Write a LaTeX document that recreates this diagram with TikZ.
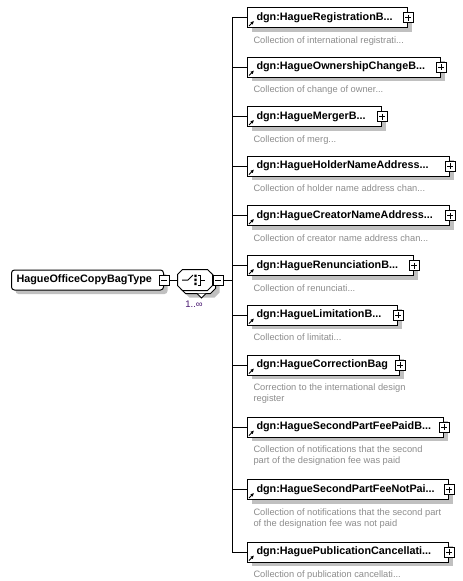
\documentclass[tikz,border=0pt]{standalone}
\usepackage{fontspec}
\setmainfont{Liberation Sans}
\usetikzlibrary{arrows.meta,positioning,shadows}

\definecolor{descgray}{RGB}{140,140,140}
\definecolor{shadowgray}{RGB}{192,192,192}
\definecolor{occurcolor}{RGB}{70,20,110}

\begin{document}
\begin{tikzpicture}[
  x=1pt, y=-1pt,
  font=\fontsize{10.8}{12}\selectfont\bfseries,
  line width=1pt,
  boxshadow/.style={drop shadow={shadow xshift=4pt, shadow yshift=-4pt, fill=shadowgray, opacity=1}},
  elem/.style={draw, fill=white, anchor=west, align=left, inner xsep=9pt, inner ysep=0pt, minimum height=20pt, text width=#1, boxshadow},
  rootbox/.style={draw, fill=white, rounded corners=3pt, anchor=west, align=left, inner xsep=5pt, inner ysep=0pt, minimum height=20pt, text width=142pt, boxshadow},
  compositor/.style={minimum width=34pt, minimum height=20pt, inner sep=0pt},
  octagon/.style={draw, fill=white},
  plusbox/.style={draw, fill=white, minimum size=10pt, inner sep=0pt,
    path picture={\draw[line width=1pt] ([xshift=2pt]path picture bounding box.west) -- ([xshift=-2pt]path picture bounding box.east)
      ([yshift=-2pt]path picture bounding box.north) -- ([yshift=2pt]path picture bounding box.south);}},
  minusbox/.style={draw, fill=white, minimum size=10pt, inner sep=0pt,
    path picture={\draw[line width=1pt] ([xshift=2pt]path picture bounding box.west) -- ([xshift=-2pt]path picture bounding box.east);}},
  desc/.style={anchor=north west, inner sep=0pt, align=left, text=descgray, font=\fontsize{9.3}{11}\selectfont},
  occur/.style={inner sep=0pt, text=occurcolor, font=\fontsize{9.5}{10}\selectfont},
  refarrow/.style={-{Latex[length=3.5pt,width=3.5pt]}, line width=1pt}
]
\useasboundingbox (0,0) rectangle (463,581);

% Root type and choice compositor
\node[rootbox] (root) at (11,280) {HagueOfficeCopyBagType};
\node[minusbox] (root-minus) at (root.east) {};

\node[compositor] (cmp-back) at (198,283) {};
\node[compositor] (cmp) at (195,280) {};
\draw[octagon, boxshadow] ([xshift=5pt]cmp-back.north west) -- ([xshift=-5pt]cmp-back.north east) -- ([yshift=-5pt]cmp-back.north east)
  -- ([yshift=5pt]cmp-back.south east) -- ([xshift=-5pt]cmp-back.south east) -- ([xshift=5pt]cmp-back.south west)
  -- ([yshift=5pt]cmp-back.south west) -- ([yshift=-5pt]cmp-back.north west) -- cycle;
\draw[fill=white] ([xshift=-1pt]cmp-back.south) -- ++(4.5pt,-4.5pt) -- ++(4.5pt,4.5pt);
\draw[octagon] ([xshift=5pt]cmp.north west) -- ([xshift=-5pt]cmp.north east) -- ([yshift=-5pt]cmp.north east)
  -- ([yshift=5pt]cmp.south east) -- ([xshift=-5pt]cmp.south east) -- ([xshift=5pt]cmp.south west)
  -- ([yshift=5pt]cmp.south west) -- ([yshift=-5pt]cmp.north west) -- cycle;
\node[minusbox, right=0pt of cmp] (cmp-minus) {};
\node[occur] (cmp-occ) at (194,304) {1..∞};

% choice icon
\draw ([xshift=-13pt]cmp.center) -- ++(6pt,0pt) -- ++(5pt,5pt);
\fill ([shift={(-0.7pt,3pt)}]cmp.center) rectangle +(2.4pt,2.4pt)
      ([shift={(-0.7pt,-1pt)}]cmp.center) rectangle +(2.4pt,2.4pt)
      ([shift={(-0.7pt,-5pt)}]cmp.center) rectangle +(2.4pt,2.4pt);
\draw ([shift={(3pt,5pt)}]cmp.center) -- ++(2pt,0pt) -- ++(0pt,-10pt) -- ++(-2pt,0pt);
\draw ([xshift=5pt]cmp.center) -- ++(5pt,0pt);

\coordinate (bus) at (232,280);
\draw (root-minus) -- (cmp.west);
\draw (cmp-minus) -- (bus);

% Child elements
\node[elem=142pt] (reg) at (247,17.5) {dgn:HagueRegistrationB...};
\node[elem=175pt] (own) at (247,67) {dgn:HagueOwnershipChangeB...};
\node[elem=116pt] (mrg) at (247,116.5) {dgn:HagueMergerB...};
\node[elem=184pt] (hold) at (247,166) {dgn:HagueHolderNameAddress...};
\node[elem=184pt] (crea) at (247,215.5) {dgn:HagueCreatorNameAddress...};
\node[elem=148pt] (ren) at (247,265.5) {dgn:HagueRenunciationB...};
\node[elem=132pt] (lim) at (247,315) {dgn:HagueLimitationB...};
\node[elem=134pt] (corr) at (247,365) {dgn:HagueCorrectionBag};
\node[elem=178pt] (paid) at (247,427) {dgn:HagueSecondPartFeePaidB...};
\node[elem=183pt] (npaid) at (247,489.5) {dgn:HagueSecondPartFeeNotPai...};
\node[elem=183pt] (pub) at (247,552) {dgn:HaguePublicationCancellati...};

% Expand buttons
\node[plusbox] (reg-plus) at (reg.east) {};
\node[plusbox] (own-plus) at (own.east) {};
\node[plusbox] (mrg-plus) at (mrg.east) {};
\node[plusbox] (hold-plus) at (hold.east) {};
\node[plusbox] (crea-plus) at (crea.east) {};
\node[plusbox] (ren-plus) at (ren.east) {};
\node[plusbox] (lim-plus) at (lim.east) {};
\node[plusbox] (corr-plus) at (corr.east) {};
\node[plusbox] (paid-plus) at (paid.east) {};
\node[plusbox] (npaid-plus) at (npaid.east) {};
\node[plusbox] (pub-plus) at (pub.east) {};

% Reference markers
\draw[refarrow] ([shift={(2pt,2pt)}]reg.south west) -- +(5pt,5pt);
\draw[refarrow] ([shift={(2pt,2pt)}]own.south west) -- +(5pt,5pt);
\draw[refarrow] ([shift={(2pt,2pt)}]mrg.south west) -- +(5pt,5pt);
\draw[refarrow] ([shift={(2pt,2pt)}]hold.south west) -- +(5pt,5pt);
\draw[refarrow] ([shift={(2pt,2pt)}]crea.south west) -- +(5pt,5pt);
\draw[refarrow] ([shift={(2pt,2pt)}]ren.south west) -- +(5pt,5pt);
\draw[refarrow] ([shift={(2pt,2pt)}]lim.south west) -- +(5pt,5pt);
\draw[refarrow] ([shift={(2pt,2pt)}]corr.south west) -- +(5pt,5pt);
\draw[refarrow] ([shift={(2pt,2pt)}]paid.south west) -- +(5pt,5pt);
\draw[refarrow] ([shift={(2pt,2pt)}]npaid.south west) -- +(5pt,5pt);
\draw[refarrow] ([shift={(2pt,2pt)}]pub.south west) -- +(5pt,5pt);

% Annotations
\node[desc, below right=8pt and 6pt of reg.south west] (reg-desc) {Collection of international registrati...};
\node[desc, below right=8pt and 6pt of own.south west] (own-desc) {Collection of change of owner...};
\node[desc, below right=8pt and 6pt of mrg.south west] (mrg-desc) {Collection of merg...};
\node[desc, below right=8pt and 6pt of hold.south west] (hold-desc) {Collection of holder name address chan...};
\node[desc, below right=8pt and 6pt of crea.south west] (crea-desc) {Collection of creator name address chan...};
\node[desc, below right=8pt and 6pt of ren.south west] (ren-desc) {Collection of renunciati...};
\node[desc, below right=8pt and 6pt of lim.south west] (lim-desc) {Collection of limitati...};
\node[desc, below right=8pt and 6pt of corr.south west] (corr-desc) {Correction to the international design\\register};
\node[desc, below right=8pt and 6pt of paid.south west] (paid-desc) {Collection of notifications that the second\\part of the designation fee was paid};
\node[desc, below right=8pt and 6pt of npaid.south west] (npaid-desc) {Collection of notifications that the second part\\of the designation fee was not paid};
\node[desc, below right=8pt and 6pt of pub.south west] (pub-desc) {Collection of publication cancellati...};

% Connections
\draw (bus |- reg.west) -- (bus |- pub.west);
\draw (bus |- reg.west) -- (reg.west);
\draw (bus |- own.west) -- (own.west);
\draw (bus |- mrg.west) -- (mrg.west);
\draw (bus |- hold.west) -- (hold.west);
\draw (bus |- crea.west) -- (crea.west);
\draw (bus |- ren.west) -- (ren.west);
\draw (bus |- lim.west) -- (lim.west);
\draw (bus |- corr.west) -- (corr.west);
\draw (bus |- paid.west) -- (paid.west);
\draw (bus |- npaid.west) -- (npaid.west);
\draw (bus |- pub.west) -- (pub.west);

\end{tikzpicture}
\end{document}
